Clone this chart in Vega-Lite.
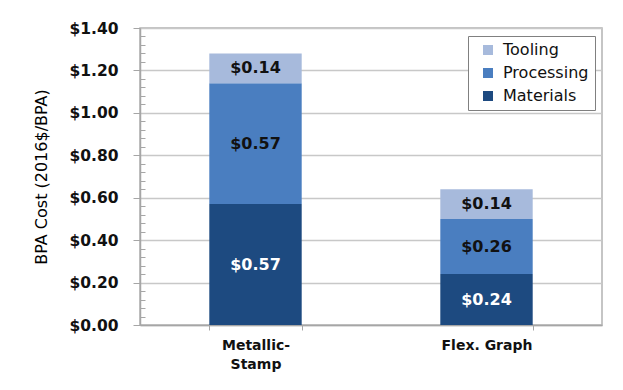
{
  "$schema": "https://vega.github.io/schema/vega-lite/v6.json",
  "width": 462,
  "height": 297,
  "autosize": {"type": "none"},
  "padding": {"left": 140, "top": 28, "right": 21, "bottom": 65},
  "background": "white",
  "config": {
    "font": "DejaVu Sans",
    "view": {"stroke": "#b3b3b3", "strokeWidth": 1.5}
  },
  "data": {
    "values": [
      {"category": "Metallic-Stamp", "component": "Materials", "order": 1, "value": 0.57},
      {"category": "Metallic-Stamp", "component": "Processing", "order": 2, "value": 0.57},
      {"category": "Metallic-Stamp", "component": "Tooling", "order": 3, "value": 0.14},
      {"category": "Flex. Graph", "component": "Materials", "order": 1, "value": 0.24},
      {"category": "Flex. Graph", "component": "Processing", "order": 2, "value": 0.26},
      {"category": "Flex. Graph", "component": "Tooling", "order": 3, "value": 0.14}
    ]
  },
  "transform": [
    {"stack": "value", "groupby": ["category"], "sort": [{"field": "order", "order": "ascending"}], "as": ["v0", "v1"]},
    {"calculate": "(datum.v0 + datum.v1) / 2", "as": "mid"}
  ],
  "encoding": {
    "x": {
      "field": "category",
      "type": "nominal",
      "sort": ["Metallic-Stamp", "Flex. Graph"],
      "scale": {"paddingInner": 0.6, "paddingOuter": 0.3},
      "axis": {
        "title": null,
        "labelAngle": 0,
        "labelFontSize": 14,
        "labelFontWeight": "bold",
        "labelColor": "#111111",
        "labelExpr": "datum.label == 'Metallic-Stamp' ? ['Metallic-', 'Stamp'] : datum.label",
        "labelLineHeight": 19,
        "tickBand": "extent",
        "tickSize": 5,
        "tickColor": "#a6a6a6",
        "domainColor": "#a6a6a6",
        "domainWidth": 1.5,
        "labelPadding": 8,
        "grid": false
      }
    },
    "y": {
      "field": "v0",
      "type": "quantitative",
      "scale": {"domain": [0, 1.4], "nice": false},
      "axis": {
        "title": "BPA Cost (2016$/BPA)",
        "titleFontSize": 16,
        "titleFontWeight": 500,
        "titleColor": "black",
        "titlePadding": 19,
        "tickCount": 40,
        "values": [0, 0.04, 0.08, 0.12, 0.16, 0.2, 0.24, 0.28, 0.32, 0.36, 0.4, 0.44, 0.48, 0.52, 0.56, 0.6, 0.64, 0.68, 0.72, 0.76, 0.8, 0.84, 0.88, 0.92, 0.96, 1.0, 1.04, 1.08, 1.12, 1.16, 1.2, 1.24, 1.28, 1.32, 1.36, 1.4],
        "format": "$.2f",
        "labelExpr": "round(datum.value * 100) % 20 == 0 ? datum.label : ''",
        "labelOverlap": false,
        "labelFontSize": 15.5,
        "labelFontWeight": "bold",
        "labelColor": "#111111",
        "labelPadding": 15,
        "tickSize": {"condition": {"test": "round(datum.value * 100) % 20 == 0", "value": 7}, "value": -5},
        "tickColor": "#a6a6a6",
        "domainColor": "#a6a6a6",
        "domainWidth": 1.5,
        "gridColor": "#c8c8c8",
        "gridWidth": 1.5,
        "gridOpacity": {"condition": {"test": "round(datum.value * 100) % 20 == 0", "value": 1}, "value": 0}
      }
    }
  },
  "layer": [
    {
      "mark": {"type": "bar"},
      "encoding": {
        "y2": {"field": "v1"},
        "color": {
          "field": "component",
          "type": "nominal",
          "scale": {"domain": ["Tooling", "Processing", "Materials"], "range": ["#a7badc", "#4a7ec0", "#1d4a80"]},
          "legend": {
            "title": null,
            "orient": "none",
            "legendX": 328,
            "legendY": 8,
            "strokeColor": "#808080",
            "fillColor": "white",
            "padding": 6,
            "labelFontSize": 16,
            "labelColor": "#111111",
            "symbolType": "square",
            "symbolSize": 100,
            "symbolStrokeWidth": 0,
            "rowPadding": 7,
            "symbolOffset": 6,
            "labelOffset": 7
          }
        }
      }
    },
    {
      "mark": {"type": "text", "fontWeight": "bold", "fontSize": 16},
      "encoding": {
        "y": {"field": "mid", "type": "quantitative"},
        "text": {"field": "value", "type": "quantitative", "format": "$.2f"},
        "color": {"condition": {"test": "datum.component === 'Materials'", "value": "white"}, "value": "#111111"}
      }
    }
  ]
}
